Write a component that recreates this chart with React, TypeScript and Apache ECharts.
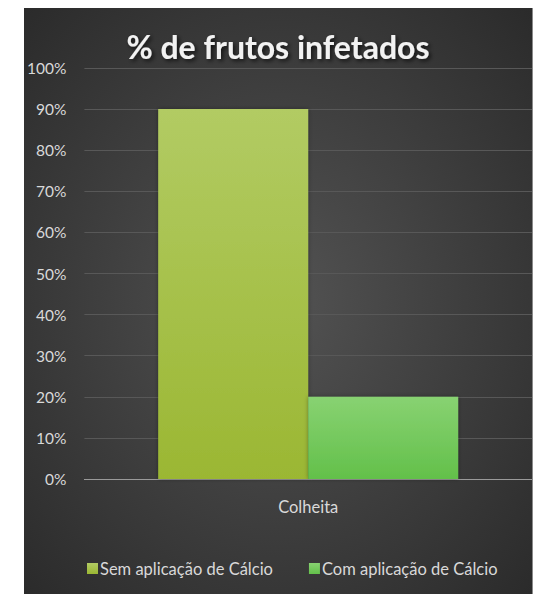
import React, { useEffect, useRef } from "react";
import * as echarts from "echarts";

const categories = ["Colheita"];
const seriesNames = ["Sem aplicação de Cálcio", "Com aplicação de Cálcio"];
const semCalcio = [90];
const comCalcio = [20];
const title = "% de frutos infetados";

export default function App() {
  const ref = useRef<HTMLDivElement>(null);
  useEffect(() => {
    if (!ref.current) return;
    const chart = echarts.init(ref.current, null, { renderer: "svg" });
    const font = "Lato, 'Open Sans', sans-serif";
    chart.setOption({
      animation: false,
      backgroundColor: {
        type: "radial",
        x: 0.5,
        y: 0.5,
        r: 0.72,
        colorStops: [
          { offset: 0, color: "#535353" },
          { offset: 1, color: "#2a2a2a" },
        ],
      },
      title: {
        text: title,
        left: "center",
        top: 17,
        textStyle: {
          color: "#f2f2f2",
          fontSize: 32,
          fontWeight: "bold",
          fontFamily: font,
          textShadowColor: "rgba(0,0,0,0.7)",
          textShadowBlur: 4,
          textShadowOffsetX: 2,
          textShadowOffsetY: 2,
        },
      },
      legend: {
        bottom: 12,
        left: 58,
        itemWidth: 11,
        itemHeight: 11,
        itemGap: 36,
        icon: "rect",
        textStyle: { color: "#d9d9d9", fontSize: 16.5, fontFamily: font, padding: [0, 0, 0, -3] },
        data: seriesNames,
      },
      grid: { left: 59, right: -1, top: 60, bottom: 115 },
      xAxis: {
        type: "category",
        data: categories,
        axisTick: { show: false },
        axisLine: { lineStyle: { color: "#9a9a9a", width: 1 } },
        axisLabel: { color: "#d9d9d9", fontSize: 16.5, fontFamily: font, margin: 19 },
      },
      yAxis: {
        type: "value",
        min: 0,
        max: 100,
        interval: 10,
        axisLine: { show: false },
        axisTick: { show: false },
        splitLine: { lineStyle: { color: "#585858", width: 1 } },
        axisLabel: {
          color: "#d9d9d9",
          fontSize: 15.5,
          fontFamily: font,
          margin: 18,
          formatter: "{value}%",
        },
      },
      series: [
        {
          name: seriesNames[0],
          type: "bar",
          data: semCalcio,
          barWidth: 150,
          barGap: "0%",
          itemStyle: {
            color: {
              type: "linear",
              x: 0, y: 0, x2: 0, y2: 1,
              colorStops: [
                { offset: 0, color: "#b2cb63" },
                { offset: 1, color: "#9bb733" },
              ],
            },
            shadowColor: "rgba(0,0,0,0.35)",
            shadowBlur: 4,
          },
        },
        {
          name: seriesNames[1],
          type: "bar",
          data: comCalcio,
          barWidth: 150,
          barGap: "0%",
          itemStyle: {
            color: {
              type: "linear",
              x: 0, y: 0, x2: 0, y2: 1,
              colorStops: [
                { offset: 0, color: "#88d272" },
                { offset: 1, color: "#63c04a" },
              ],
            },
            shadowColor: "rgba(0,0,0,0.35)",
            shadowBlur: 4,
          },
        },
      ],
    });
    return () => chart.dispose();
  }, []);
  return (
    <div style={{ position: "absolute", left: 0, top: 0, width: 533, height: 594, background: "#fff" }}>
      <div
        ref={ref}
        style={{ position: "absolute", left: 24, top: 8, width: 508, height: 586, borderRight: "1px solid #8a8a8a" }}
      />
    </div>
  );
}
